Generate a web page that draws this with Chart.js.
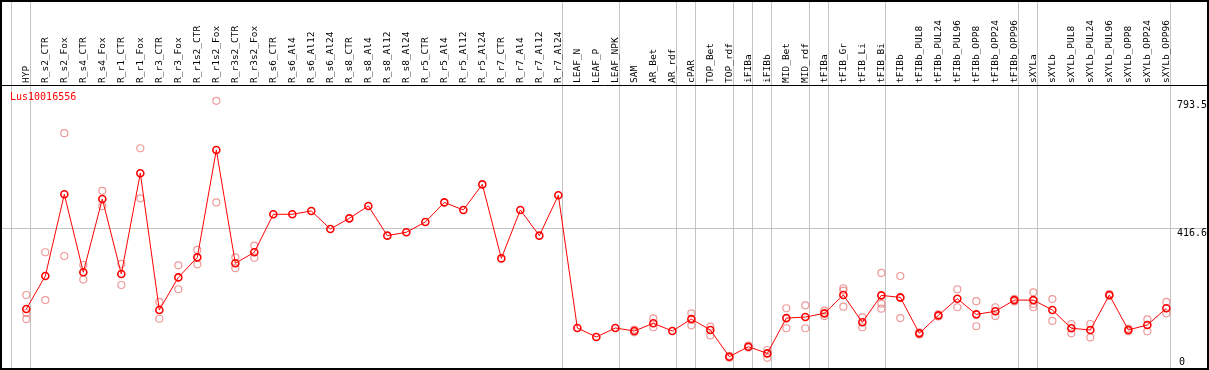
<!DOCTYPE html>
<html>
<head>
<meta charset="utf-8">
<script src="https://cdn.jsdelivr.net/npm/chart.js@4"></script>
<style>
  html, body { margin: 0; padding: 0; background: #fff; }
  #wrap { width: 1209px; height: 370px; }
</style>
</head>
<body>
<div id="wrap"><canvas id="chart" width="1209" height="370"></canvas></div>
<script>
const geneName = "Lus10016556";

const categories = [
  "HYP", "R_s2_CTR", "R_s2_Fox", "R_s4_CTR", "R_s4_Fox", "R_r1_CTR", "R_r1_Fox", "R_r3_CTR", "R_r3_Fox", "R_r1s2_CTR",
  "R_r1s2_Fox", "R_r3s2_CTR", "R_r3s2_Fox", "R_s6_CTR", "R_s6_Al4", "R_s6_Al12", "R_s6_Al24", "R_s8_CTR", "R_s8_Al4", "R_s8_Al12",
  "R_s8_Al24", "R_r5_CTR", "R_r5_Al4", "R_r5_Al12", "R_r5_Al24", "R_r7_CTR", "R_r7_Al4", "R_r7_Al12", "R_r7_Al24", "LEAF_N",
  "LEAF_P", "LEAF_NPK", "SAM", "AR_Bet", "AR_rdf", "cPAR", "TOP_Bet", "TOP_rdf", "iFIBa", "iFIBb",
  "MID_Bet", "MID_rdf", "tFIBa", "tFIB_Gr", "tFIB_Li", "tFIB_Bi", "tFIBb", "tFIBb_PUL8", "tFIBb_PUL24", "tFIBb_PUL96",
  "tFIBb_OPP8", "tFIBb_OPP24", "tFIBb_OPP96", "sXYLa", "sXYLb", "sXYLb_PUL8", "sXYLb_PUL24", "sXYLb_PUL96", "sXYLb_OPP8", "sXYLb_OPP24",
  "sXYLb_OPP96"
];

// mean expression per sample (red line)
const means = [
  179.8, 277, 518, 288, 504, 283, 580, 177, 273, 332,
  648.6, 314.5, 347, 459, 459, 468.7, 415.7, 447, 483.5, 396,
  406, 436, 494, 471.7, 547, 329, 471.7, 396, 515, 123.8,
  97.3, 123.8, 115, 137.6, 115, 150, 118, 39.2, 68.7, 49,
  153, 156, 167, 221, 140.6, 220, 214, 108, 161, 210,
  164, 173, 206, 206, 177, 123, 118, 221, 118, 132.7,
  182
];

// replicates (pink circles), null = no replicate
const rep1 = [
  221, 347, 698, 309.5, 528, 312.5, 653.6, 200.5, 308.6, 354,
  793.5, 332, 366.5, null, null, null, null, null, null, null,
  null, null, null, null, null, null, null, null, null, null,
  null, null, 119, 152, null, 167, 127.7, 42, 72, 59,
  182, 190.6, 175, 241, 155, 286, 277, 111, 164, 238,
  203, 185, 210, 229, 209, 135.6, 135.6, 224, 122, 149.5,
  200.5
];
const rep2 = [
  150, 206, 336, 267, 483, 250.6, 506, 151, 238, 311.6,
  494, 300, 331, null, null, null, null, null, null, null,
  null, null, null, null, null, null, null, null, null, null,
  null, null, 111, 126, null, 131.6, 102, 36, 66, 36,
  123, 123, 159, 186.6, 126, 180.7, 153, 105, 158, 185,
  129, 159, 202, 185, 144.5, 108, 96, 218, 114, 114,
  167
];
const rep3 = [
  168, null, null, null, null, null, null, null, null, null,
  null, null, null, null, null, null, null, null, null, null,
  null, null, null, null, null, null, null, null, null, null,
  null, null, null, null, null, null, null, null, null, null,
  null, null, null, 234, null, 195.5, 212, null, null, null,
  null, null, null, 194.6, null, null, null, null, null, null,
  null
];

// right axis labels
const yTicks = [416.6, 793.5];
const yZeroTick = [0];

// samples after which a grey separator is drawn
const groupEnds = [-1, 0, 28, 31, 34, 35, 37, 38, 39, 41, 42, 45, 52, 53, 60];

const xMin = -1.28;
const xMax = 62.14;
const yMax = 840;
const grey = "#c4c4c4";

const repPoints = [];
[rep1, rep2, rep3].forEach(r => {
  r.forEach((v, i) => { if (v !== null) repPoints.push({ x: i, y: v }); });
});

// keep the plot area exactly where the frame is
function noPad(s) {
  s.paddingLeft = 0;
  s.paddingRight = 0;
  s.paddingTop = 0;
  s.paddingBottom = 0;
}

const framePlugin = {
  id: "frame",
  afterDraw(chart) {
    const ctx = chart.ctx;
    ctx.save();
    ctx.strokeStyle = "#000";
    ctx.lineWidth = 2;
    ctx.strokeRect(1, 1, 1207, 368);
    ctx.lineWidth = 1;
    ctx.beginPath();
    ctx.moveTo(0, 85.5);
    ctx.lineTo(1209, 85.5);
    ctx.stroke();
    ctx.fillStyle = "#ff0000";
    ctx.font = "10px 'DejaVu Sans Mono'";
    ctx.textBaseline = "alphabetic";
    ctx.fillText(geneName, 10, 100);
    ctx.restore();
  }
};

new Chart(document.getElementById("chart"), {
  type: "line",
  data: {
    datasets: [
      {
        label: "mean",
        data: means.map((v, i) => ({ x: i, y: v })),
        borderColor: "#ff0000",
        borderWidth: 1,
        pointRadius: 3.5,
        pointBorderWidth: 1.6,
        pointBorderColor: "#ff0000",
        pointBackgroundColor: "rgba(0,0,0,0)",
        tension: 0,
        xAxisID: "x",
        yAxisID: "y"
      },
      {
        label: "replicates",
        data: repPoints,
        showLine: false,
        pointRadius: 3.5,
        pointBorderWidth: 1.2,
        pointBorderColor: "rgba(232,120,120,0.75)",
        pointBackgroundColor: "rgba(0,0,0,0)",
        xAxisID: "x",
        yAxisID: "y"
      }
    ]
  },
  options: {
    responsive: false,
    animation: false,
    devicePixelRatio: 1,
    layout: { autoPadding: false, padding: { left: 2, right: 2, top: 0, bottom: 0 } },
    plugins: { legend: { display: false }, tooltip: { enabled: false } },
    scales: {
      x: {
        type: "linear",
        position: "top",
        weight: 1,
        min: xMin,
        max: xMax,
        afterBuildTicks: s => { s.ticks = categories.map((c, i) => ({ value: i })); },
        afterFit: s => { s.height = 85; noPad(s); },
        grid: { display: false, drawTicks: false },
        border: { display: false },
        ticks: {
          autoSkip: false,
          minRotation: 90,
          maxRotation: 90,
          padding: 2,
          labelOffset: 11.4,
          color: "#000",
          font: { family: "DejaVu Sans Mono", size: 9.5 },
          callback: v => categories[v]
        }
      },
      xg: {
        type: "linear",
        position: "top",
        weight: 0,
        min: xMin,
        max: xMax,
        afterBuildTicks: s => { s.ticks = groupEnds.map(i => ({ value: i + 0.23 })); },
        afterFit: s => { s.height = 0; noPad(s); },
        grid: { color: grey, lineWidth: 1, drawTicks: true, tickLength: 85, tickColor: grey },
        border: { display: false },
        ticks: { display: false }
      },
      y: {
        type: "linear",
        position: "right",
        min: 0,
        max: yMax,
        afterBuildTicks: s => { s.ticks = yTicks.map(v => ({ value: v })); },
        afterFit: s => { s.width = 0; noPad(s); },
        grid: {
          drawTicks: false,
          color: c => (c.tick && c.tick.value === 416.6 ? grey : "rgba(0,0,0,0)")
        },
        border: { display: false },
        ticks: {
          mirror: true,
          crossAlign: "far",
          padding: 0,
          labelOffset: 4.5,
          color: "#000",
          font: { family: "DejaVu Sans Mono", size: 10 },
          callback: v => String(v)
        }
      },
      y0: {
        type: "linear",
        position: "right",
        min: 0,
        max: yMax,
        afterBuildTicks: s => { s.ticks = yZeroTick.map(v => ({ value: v })); },
        afterFit: s => { s.width = 0; noPad(s); },
        grid: { display: false, drawTicks: false },
        border: { display: false },
        ticks: {
          mirror: true,
          crossAlign: "far",
          padding: -22,
          labelOffset: -8,
          color: "#000",
          font: { family: "DejaVu Sans Mono", size: 10 },
          callback: v => String(v)
        }
      }
    }
  },
  plugins: [framePlugin]
});
</script>
</body>
</html>
